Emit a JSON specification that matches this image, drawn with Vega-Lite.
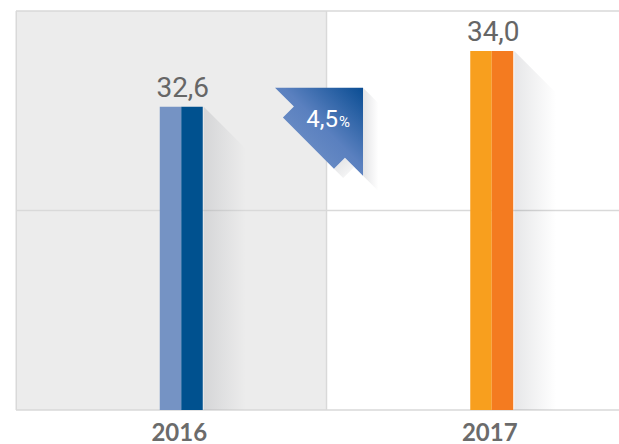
{
  "$schema": "https://vega.github.io/schema/vega-lite/v6.json",
  "width": 603,
  "height": 399,
  "autosize": {"type": "none"},
  "padding": {"left": 16, "top": 11, "right": 0, "bottom": 34},
  "background": "white",
  "config": {"view": {"stroke": null}},
  "datasets": {
    "bars": [
      {"year": "2016", "value": 32.6, "label": "32,6"},
      {"year": "2017", "value": 34.0, "label": "34,0"}
    ],
    "badge": [{"change": "4,5", "unit": "%"}],
    "grid": [{"v": 25}, {"v": 30}, {"v": 35}],
    "panel": [{"year": "2016"}]
  },
  "layer": [
    {
      "data": {"name": "panel"},
      "mark": {"type": "bar", "width": 310.5, "xOffset": -10, "color": "#ececec"},
      "encoding": {
        "x": {"field": "year", "type": "nominal",
          "scale": {"domain": ["2016", "2017"], "range": [10, 631], "paddingInner": 0, "paddingOuter": 0},
          "axis": {"title": null, "domain": false, "ticks": false, "tickSize": 0, "grid": false,
            "labelAngle": 0, "labelFont": "Lato", "labelFontWeight": "bold", "labelFontSize": 24,
            "labelColor": "#6b6b6b", "labelBaseline": "alphabetic", "labelPadding": 30, "labelOffset": -2}},
        "y": {"datum": 35, "type": "quantitative",
          "scale": {"domain": [25, 35], "zero": false, "nice": false},
          "axis": null},
        "y2": {"datum": 25}
      }
    },
    {
      "data": {"name": "grid"},
      "mark": {"type": "rule", "color": "#d9d9d9", "strokeWidth": 1.5},
      "encoding": {"y": {"field": "v", "type": "quantitative"}}
    },
    {
      "data": {"name": "panel"},
      "mark": {"type": "rule", "color": "#d9d9d9", "strokeWidth": 1.5, "xOffset": 145.25},
      "encoding": {"x": {"field": "year", "type": "nominal"}}
    },
    {
      "data": {"name": "panel"},
      "mark": {"type": "rule", "color": "#d9d9d9", "strokeWidth": 1.5, "xOffset": -165},
      "encoding": {"x": {"field": "year", "type": "nominal"}}
    },
    {
      "data": {"name": "bars"},
      "mark": {"type": "point", "shape": "M0,0 L1,1 L1,10 L0,10 Z", "size": 7056, "filled": true,
        "opacity": 1, "strokeWidth": 0, "xOffset": 22.5, "clip": true,
        "fill": {"gradient": "linear", "x1": 0, "y1": 0, "x2": 1, "y2": 0,
          "stops": [{"offset": 0, "color": "rgba(30,35,50,0.11)"}, {"offset": 1, "color": "rgba(30,35,50,0)"}]}},
      "encoding": {
        "x": {"field": "year", "type": "nominal"},
        "y": {"field": "value", "type": "quantitative"}
      }
    },
    {
      "data": {"name": "bars"},
      "mark": {"type": "bar", "width": 21.5, "xOffset": -10.75},
      "encoding": {
        "x": {"field": "year", "type": "nominal"},
        "y": {"field": "value", "type": "quantitative"},
        "y2": {"datum": 25},
        "color": {"condition": {"test": "datum.year == '2016'", "value": "#7593c4"}, "value": "#f89f1e"}
      }
    },
    {
      "data": {"name": "bars"},
      "mark": {"type": "bar", "width": 21.5, "xOffset": 10.75},
      "encoding": {
        "x": {"field": "year", "type": "nominal"},
        "y": {"field": "value", "type": "quantitative"},
        "y2": {"datum": 25},
        "color": {"condition": {"test": "datum.year == '2016'", "value": "#00518f"}, "value": "#f47b20"}
      }
    },
    {
      "data": {"name": "bars"},
      "mark": {"type": "text", "font": "Roboto", "fontWeight": "normal", "fontSize": 28, "color": "#666666",
        "align": "center", "baseline": "alphabetic", "yOffset": -10, "xOffset": 1.5},
      "encoding": {
        "x": {"field": "year", "type": "nominal"},
        "y": {"field": "value", "type": "quantitative"},
        "text": {"field": "label"}
      }
    },
    {
      "data": {"name": "badge"},
      "mark": {"type": "point", "shape": "M1,-1 L1.35,-0.65 L1.35,1.35 L1,1 Z", "size": 7744, "filled": true,
        "opacity": 1, "strokeWidth": 0, "xOffset": 137.75, "yOffset": 1,
        "fill": {"gradient": "linear", "x1": 0, "y1": 0, "x2": 1, "y2": 0,
          "stops": [{"offset": 0, "color": "rgba(30,35,50,0.12)"}, {"offset": 1, "color": "rgba(30,35,50,0)"}]}},
      "encoding": {"x": {"datum": "2016"}, "y": {"datum": 32}}
    },
    {
      "data": {"name": "badge"},
      "mark": {"type": "point", "shape": "M0.34,0.84 L0.59,0.59 L0.8,0.8 L0.55,1.05 Z", "size": 7744, "filled": true,
        "opacity": 1, "strokeWidth": 0, "xOffset": 137.75, "yOffset": 1,
        "fill": {"gradient": "linear", "x1": 0, "y1": 0, "x2": 1, "y2": 1,
          "stops": [{"offset": 0, "color": "rgba(30,35,50,0.14)"}, {"offset": 1, "color": "rgba(30,35,50,0.02)"}]}},
      "encoding": {"x": {"datum": "2016"}, "y": {"datum": 32}}
    },
    {
      "data": {"name": "badge"},
      "mark": {"type": "point", "shape": "M-1,-1 L1,-1 L1,1 L0.59,0.59 L0.34,0.84 L-0.82,-0.32 L-0.57,-0.57 Z",
        "size": 7744, "filled": true, "opacity": 1, "strokeWidth": 0, "xOffset": 137.75, "yOffset": 1,
        "fill": {"gradient": "linear", "x1": 0, "y1": 1, "x2": 1, "y2": 0,
          "stops": [{"offset": 0, "color": "#7d9bcc"}, {"offset": 0.55, "color": "#5a80bf"}, {"offset": 1, "color": "#0a4d93"}]}},
      "encoding": {"x": {"datum": "2016"}, "y": {"datum": 32}}
    },
    {
      "data": {"name": "badge"},
      "mark": {"type": "text", "font": "Roboto", "fontWeight": "normal", "fontSize": 24, "color": "white",
        "align": "right", "baseline": "alphabetic", "xOffset": 156.75, "yOffset": -4},
      "encoding": {"x": {"datum": "2016"}, "y": {"datum": 32}, "text": {"field": "change"}}
    },
    {
      "data": {"name": "badge"},
      "mark": {"type": "text", "font": "Roboto", "fontWeight": "normal", "fontSize": 15, "color": "white",
        "align": "left", "baseline": "alphabetic", "xOffset": 157.75, "yOffset": -4},
      "encoding": {"x": {"datum": "2016"}, "y": {"datum": 32}, "text": {"field": "unit"}}
    }
  ]
}
